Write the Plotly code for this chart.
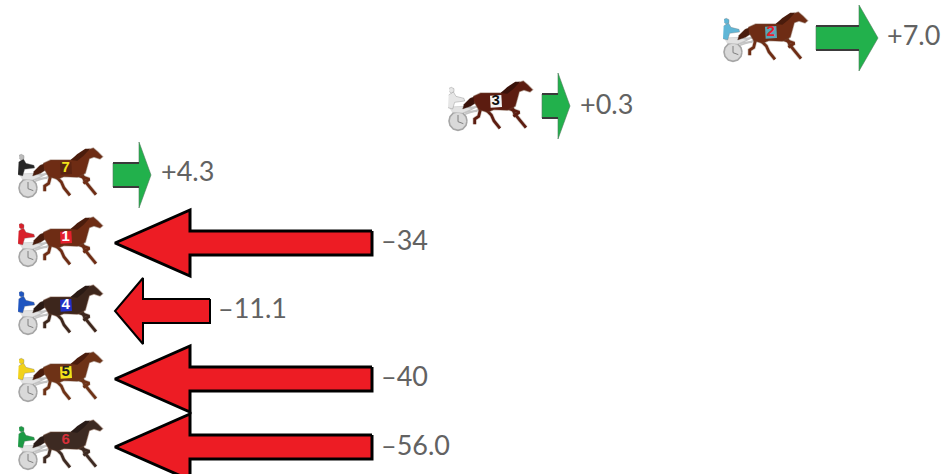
import plotly.graph_objects as go

# ---- data ----
numbers = ["2", "3", "7", "1", "4", "5", "6"]
labels = ["+7.0", "+0.3", "+4.3", "–34", "–11.1", "–40", "–56.0"]
row_y = [38, 106, 175, 243, 311, 379, 447]
label_y = [38, 107, 174, 243, 311, 379, 448]
icon_x = [722, 447, 17, 17, 17, 17, 17]
icon_y = [12, 81, 148, 217, 285, 352, 420]
arrow_tail = [816, 542, 113, 372, 210, 372, 372]
arrow_neck = [859, 558, 139, 190, 143, 190, 190]
arrow_tip = [878, 570, 151, 115, 115, 115, 115]
label_x = [887, 580, 161, 381, 218, 381, 381]
shirts = ["#5fb6d6", "#e6e6e6", "#262626", "#d8202a", "#1f55c0", "#f2d21a", "#1c9a45"]
badges = ["#5aa6b8", "#f4f4f4", "#5a2412", "#e5212d", "#2230c8", "#f2e21a", "#3a241c"]
digits = ["#e5212d", "#111111", "#f2e21a", "#ffffff", "#ffffff", "#222222", "#d8303a"]
coats = ["#6e2c14", "#5c1c10", "#6e2c14", "#6e2c14", "#3d261c", "#6e3216", "#3d2a22"]
manes = ["#4a1c0c", "#3a120a", "#4a1c0c", "#4a1c0c", "#2a1a14", "#4a1c0c", "#2a1c18"]

GREEN, RED, BLACK = "#22b14c", "#ed1c24", "#000000"
SHAFT_HALF = 12
HEAD_HALF = 33


def poly(points, ox, oy):
    """Icon outline (traced in a 3x grid) placed at the icon's corner."""
    return [ox + p[0] / 3 - 3 for p in points], [oy + p[1] / 3 - 2 for p in points]


BODY = [(88, 52), (110, 42), (170, 42), (192, 30), (212, 14), (238, 6), (252, 18),
        (266, 32), (258, 39), (240, 33), (226, 38), (220, 58), (214, 82), (190, 94),
        (150, 92), (130, 100), (104, 92), (90, 68)]
MANE = [(170, 42), (190, 24), (214, 8), (228, 8), (208, 30), (190, 44)]
TAIL = [(94, 52), (78, 58), (60, 76), (56, 90), (80, 82), (98, 70)]
LEGS = [
    [(204, 84), (212, 104), (228, 124), (246, 146)],
    [(192, 88), (226, 100), (208, 112)],
    [(122, 88), (142, 108), (150, 126), (168, 148)],
    [(110, 88), (104, 112), (92, 120), (92, 136)],
]
SHAFTS = [[(62, 100), (140, 62)], [(30, 92), (110, 82)], [(50, 100), (100, 96)], [(56, 108), (110, 90)]]
TORSO = [(14, 48), (28, 38), (36, 52), (60, 58), (62, 66), (32, 70), (26, 90), (12, 86)]
SEAT = [(14, 84), (60, 82), (84, 90), (56, 102), (24, 100)]
HEAD = [(15, 28), (22, 25), (30, 29), (30, 38), (22, 42), (16, 38)]
BADGE = [(138, 50), (172, 48), (174, 84), (140, 86)]
WHEEL_PTS = [(69, 126), (66, 139), (56, 150), (42, 154), (28, 150), (18, 139), (15, 126),
             (18, 113), (28, 102), (42, 98), (56, 102), (66, 113), (69, 126)]
HANDS = [(42, 108), (42, 128), (58, 134)]

fig = go.Figure()


def fill(xs, ys, color, line=None, width=0):
    fig.add_trace(go.Scatter(x=xs, y=ys, mode="lines", fill="toself", fillcolor=color,
                             line=dict(color=line or color, width=width),
                             hoverinfo="skip", showlegend=False))


def stroke(xs, ys, color, width):
    fig.add_trace(go.Scatter(x=xs, y=ys, mode="lines",
                             line=dict(color=color, width=width),
                             hoverinfo="skip", showlegend=False))


for i, n in enumerate(numbers):
    ox, oy = icon_x[i], icon_y[i]
    for s in SHAFTS:
        stroke(*poly(s, ox, oy), "#c4c4c4", 1.8)
    fill(*poly(WHEEL_PTS, ox, oy), "#d9d9d9", "#a6a6a6", 1.6)
    stroke(*poly(HANDS, ox, oy), "#7f7f7f", 1)
    fill(*poly(SEAT, ox, oy), "#e2e2e2", "rgba(190,190,190,0.5)", 1)
    fill(*poly(TORSO, ox, oy), shirts[i], "rgba(120,120,120,0.35)", 1)
    fill(*poly(HEAD, ox, oy), shirts[i] if i != 2 else "#bbbbbb", "rgba(120,120,120,0.35)", 1)
    fill(*poly(TAIL, ox, oy), manes[i], "rgba(90,70,60,0.3)", 1)
    for leg in LEGS:
        stroke(*poly(leg, ox, oy), "rgba(110,80,60,0.3)", 4.2)
        stroke(*poly(leg, ox, oy), coats[i], 2.8)
    fill(*poly(BODY, ox, oy), coats[i], "rgba(110,70,50,0.4)", 1.4)
    fill(*poly(MANE, ox, oy), manes[i])
    if n != "6":
        fill(*poly(BADGE, ox, oy), badges[i])
    bx, by = poly([(155, 67)], ox, oy)
    fig.add_trace(go.Scatter(x=bx, y=by, mode="text", text=[n], textposition="middle center",
                             textfont=dict(family="Liberation Sans", size=15,
                                           color=digits[i], weight="bold"),
                             hoverinfo="skip", showlegend=False))

for i in range(len(numbers)):
    y = row_y[i]
    up = arrow_tip[i] > arrow_tail[i]
    xs = [arrow_tail[i], arrow_neck[i], arrow_neck[i], arrow_tip[i],
          arrow_neck[i], arrow_neck[i], arrow_tail[i], arrow_tail[i]]
    ys = [y - SHAFT_HALF, y - SHAFT_HALF, y - HEAD_HALF, y,
          y + HEAD_HALF, y + SHAFT_HALF, y + SHAFT_HALF, y - SHAFT_HALF]
    if up:
        fill(xs, ys, GREEN, "#4d7a5a", 0.6)
        stroke(xs[:2], ys[:2], "#3a3a3a", 2)
        stroke(xs[5:7], ys[5:7], "#3a3a3a", 2)
    else:
        fill(xs, ys, RED, BLACK, 3 if arrow_tail[i] == 372 else 2)

fig.add_trace(go.Scatter(x=label_x, y=label_y, mode="text", text=labels,
                         textposition="middle right",
                         textfont=dict(family="Lato", size=27, color="#626262"),
                         hoverinfo="skip", showlegend=False))

fig.update_layout(width=941, height=474, margin=dict(l=0, r=0, t=0, b=0),
                  paper_bgcolor="white", plot_bgcolor="white", showlegend=False,
                  xaxis=dict(range=[0, 941], visible=False, fixedrange=True),
                  yaxis=dict(range=[474, 0], visible=False, fixedrange=True))

fig.write_html("out.html", config={"displayModeBar": False},
               post_script="document.body.style.margin='0';document.body.style.overflow='hidden';")
